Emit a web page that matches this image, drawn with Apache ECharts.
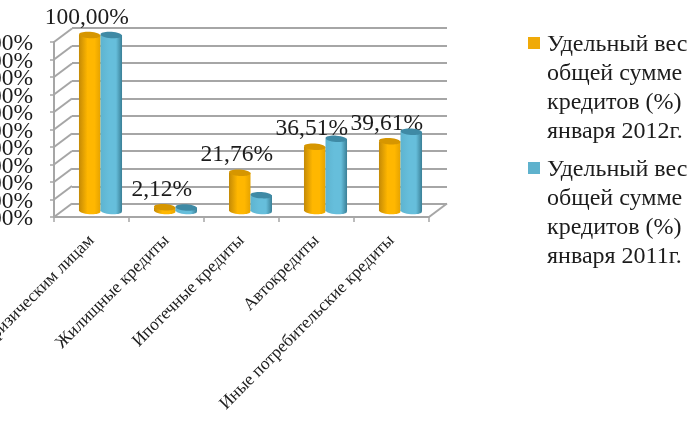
<!DOCTYPE html>
<html><head><meta charset="utf-8">
<style>html,body{margin:0;padding:0;background:#fff}#c{width:690px;height:430px}</style>
<script src="https://cdn.jsdelivr.net/npm/echarts@6/dist/echarts.min.js"></script>
</head><body><div id="c"></div>
<script>
const categories = ['Кредиты физическим лицам','Жилищные кредиты','Ипотечные кредиты','Автокредиты','Иные потребительские кредиты'];
const values2012 = [100, 2.12, 21.76, 36.51, 39.61];
const values2011 = [100, 2, 9, 41, 45];
const yTicks = [0,10,20,30,40,50,60,70,80,90,100];
const name2012 = 'Удельный вес\nобщей сумме\nкредитов (%)\nянваря 2012г.';
const name2011 = 'Удельный вес\nобщей сумме\nкредитов (%)\nянваря 2011г.';
const FONT = '"Liberation Serif","Times New Roman",serif';
const GREY = '#a6a6a6', INK = '#1c1c1c';
const DX = 18, DY = -13.5;
const ICON = 'path://M0,0L0.01,0L0,0Z M0,5H12V17H0Z M0,112L0.01,112L0,112Z';

const pct = v => v.toFixed(2).replace('.', ',') + '%';

function cylinder(side, colors, labelled) {
  return function (params, api) {
    const i = api.value(0), v = api.value(1);
    const band = api.size([1, 0])[0];
    const w = band * 0.287;
    const top = api.coord([i, v]), base = api.coord([i, 0]);
    const cx = top[0] + side * w / 2;
    const ry = 3.2, rot = -0.07;
    const grad = new echarts.graphic.LinearGradient(0, 0, 1, 0, [
      {offset: 0, color: colors[0]}, {offset: 0.4, color: colors[1]},
      {offset: 0.72, color: colors[1]}, {offset: 1, color: colors[2]}]);
    const kids = [
      {type:'ellipse', shape:{cx:cx, cy:base[1], rx:w/2, ry:ry}, rotation:rot, originX:cx, originY:base[1], style:{fill:grad}},
      {type:'rect', shape:{x:cx-w/2, y:top[1], width:w, height:base[1]-top[1]}, style:{fill:grad}},
      {type:'ellipse', shape:{cx:cx, cy:top[1], rx:w/2, ry:ry}, rotation:rot, originX:cx, originY:top[1], style:{fill:colors[3]}}
    ];
    if (labelled) {
      kids.push({type:'text', z2:100, style:{text:pct(v), x:cx-3, y:top[1]-17.5, align:'center', verticalAlign:'middle',
        font:'23.5px '+FONT, fill:INK}});
    }
    return {type:'group', children:kids};
  };
}

const option = {
  animation:false,
  backgroundColor:'#fff',
  textStyle:{fontFamily:FONT},
  legend:{
    orient:'vertical', left:528, top:30, itemGap:9, itemWidth:12, itemHeight:112,
    data:[{name:name2012, icon:ICON, itemStyle:{color:'#f0aa08'}},{name:name2011, icon:ICON, itemStyle:{color:'#5fb2cd'}}],
    textStyle:{fontFamily:FONT, fontSize:24, lineHeight:29, color:INK, padding:[0,0,0,2]},
    selectedMode:false, padding:0
  },
  grid:[
    {left:54, top:42, width:375, height:175, outerBoundsMode:'none'},
    {left:72, top:28, width:375, height:176, outerBoundsMode:'none'},
    {left:63, top:35, width:375, height:176, outerBoundsMode:'none'}
  ],
  xAxis:[
    {gridIndex:0, type:'category', data:categories, z:5,
      axisLine:{lineStyle:{color:GREY,width:2}}, axisTick:{show:true,length:5,lineStyle:{color:GREY,width:1.5}},
      axisLabel:{rotate:45, interval:0, margin:21, fontFamily:FONT, fontSize:17.5, color:INK}},
    {gridIndex:1, type:'category', data:categories, show:false},
    {gridIndex:2, type:'category', data:categories, show:false}
  ],
  yAxis:[
    {gridIndex:0, type:'value', min:0, max:100, interval:10, splitLine:{show:false}, z:5,
      axisLine:{show:true,lineStyle:{color:GREY,width:2}}, axisTick:{show:true,length:4,lineStyle:{color:GREY,width:1.5}},
      axisLabel:{show:false}},
    {gridIndex:1, type:'value', min:0, max:100, interval:10,
      axisLine:{show:false}, axisTick:{show:false}, axisLabel:{show:false},
      splitLine:{show:true,lineStyle:{color:GREY,width:2}}},
    {gridIndex:2, type:'value', min:0, max:100, show:false, splitLine:{show:false}}
  ],
  series:[
    {type:'custom', name:'depth', xAxisIndex:0, yAxisIndex:0, silent:true, z:1, clip:false,
      data:yTicks.map(v=>[0,v]),
      renderItem(params, api){
        const p = api.coord([0, api.value(1)]);
        const x = p[0] - api.size([1,0])[0]/2;
        const style = {stroke:GREY, lineWidth:2, fill:null};
        const kids = [
          {type:'line', shape:{x1:x,y1:p[1],x2:x+DX,y2:p[1]+DY}, style},
          {type:'text', style:{text:pct(api.value(1)), x:x-21, y:p[1]+2, align:'right', verticalAlign:'middle', font:'23.5px '+FONT, fill:INK}}
        ];
        if (api.value(1) === 0) {
          const e = x + api.size([1,0])[0]*categories.length;
          kids.push({type:'line', shape:{x1:e,y1:p[1],x2:e+DX,y2:p[1]+DY}, style});
        }
        return {type:'group', children:kids};
      }},
    {type:'custom', name:name2012, xAxisIndex:2, yAxisIndex:2, z:3, silent:true,
      encode:{x:0,y:1}, data:values2012.map((v,i)=>[i,v]),
      itemStyle:{color:'#f0aa08'},
      renderItem:cylinder(-1,['#c48a06','#ffb700','#e6a300','#d69600'],true)},
    {type:'custom', name:name2011, xAxisIndex:2, yAxisIndex:2, z:4, silent:true,
      encode:{x:0,y:1}, data:values2011.map((v,i)=>[i,v]),
      itemStyle:{color:'#5fb2cd'},
      renderItem:cylinder(1,['#5eb4d0','#66bedb','#3a7f96','#3f8aa5'],false)}
  ]
};
const chart = echarts.init(document.getElementById('c'), null, {renderer:'canvas', width:690, height:430});
chart.setOption(option);
</script></body></html>
